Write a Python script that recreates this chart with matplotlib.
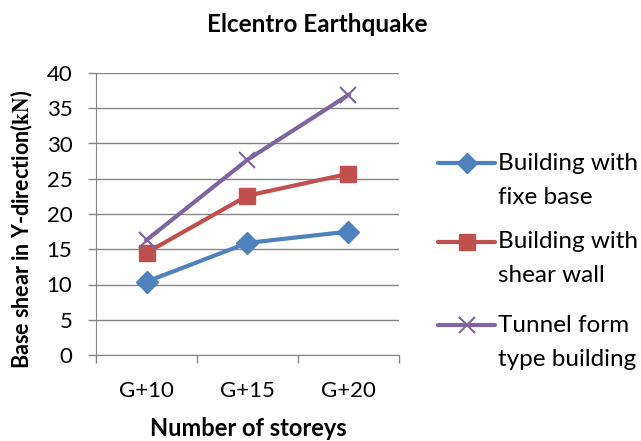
import numpy as np
import matplotlib.pyplot as plt
from matplotlib.lines import Line2D

# data
storeys = ["G+10", "G+15", "G+20"]
fixed_base = [10.4, 15.9, 17.5]
shear_wall = [14.5, 22.6, 25.7]
tunnel_form = [16.3, 27.7, 36.9]
series_labels = ["Building with\nfixe base", "Building with\nshear wall", "Tunnel form\ntype building"]
colors = ['#4F81BD', '#C0504D', '#8064A2']
markers = ['D', 's', 'x']

plt.rcParams['font.family'] = ['Lato', 'DejaVu Sans']
plt.rcParams['mathtext.fontset'] = 'stix'

W, H = 641, 441
fig = plt.figure(figsize=(W / 100, H / 100), dpi=100)
ax = fig.add_axes([96 / W, 1 - 355 / H, 303 / W, 282 / H])

x = np.arange(len(storeys))
grid_col = '#868686'

for vals, c, m in zip([fixed_base, shear_wall, tunnel_form], colors, markers):
    ax.plot(x, vals, color=c, lw=3, marker=m, ms=12 if m != 'D' else 11,
            mew=1.5 if m == 'x' else 1, zorder=3)

ax.set_xlim(-0.5, 2.5)
ax.set_ylim(0, 40)
ax.set_yticks(range(0, 41, 5))
ax.set_xticks(x)
ax.set_xticklabels(storeys)
ax.tick_params(axis='both', labelsize=16, colors='black')
ax.tick_params(axis='y', length=6, color=grid_col, width=1, pad=11)
ax.tick_params(axis='x', length=0, pad=19)
# category separators on the x axis
ax.set_xticks([-0.5, 0.5, 1.5, 2.5], minor=True)
ax.tick_params(axis='x', which='minor', length=6, color=grid_col, width=1, direction='out')

ax.grid(axis='y', color=grid_col, lw=1)
ax.set_axisbelow(True)
for s in ['top', 'right']:
    ax.spines[s].set_visible(False)
ax.spines['left'].set_color(grid_col)
ax.spines['bottom'].set_color(grid_col)

fig.text(317 / W, 1 - 25 / H, "Elcentro Earthquake", fontsize=17.5, fontweight='bold',
         ha='center', va='center')
fig.text(248 / W, 1 - 429 / H, "Number of storeys", fontsize=17, fontweight='bold',
         ha='center', va='center')
fig.text(22 / W, 1 - 229 / H, r"Base shear in Y-direction($\mathbf{kN}$)", fontsize=15.5,
         fontweight='bold', ha='center', va='center', rotation=90)

# legend, handle aligned with the first line of each label
entry_y = [163, 242, 325]
for lab, c, m, yy in zip(series_labels, colors, markers, entry_y):
    yf = 1 - yy / H
    fig.add_artist(Line2D([438 / W, 495 / W], [yf, yf], color=c, lw=3,
                          solid_capstyle='round', transform=fig.transFigure))
    fig.add_artist(Line2D([466.5 / W], [yf], color=c, marker=m,
                          ms=11 if m != 'D' else 10, mew=1.5 if m == 'x' else 1,
                          transform=fig.transFigure))
    first, second = lab.split("\n")
    fig.text(498 / W, yf, first, fontsize=17.5, ha='left', va='center')
    fig.text(498 / W, 1 - (yy + 34) / H, second, fontsize=17.5, ha='left', va='center')

plt.savefig("out.png", dpi=100)
